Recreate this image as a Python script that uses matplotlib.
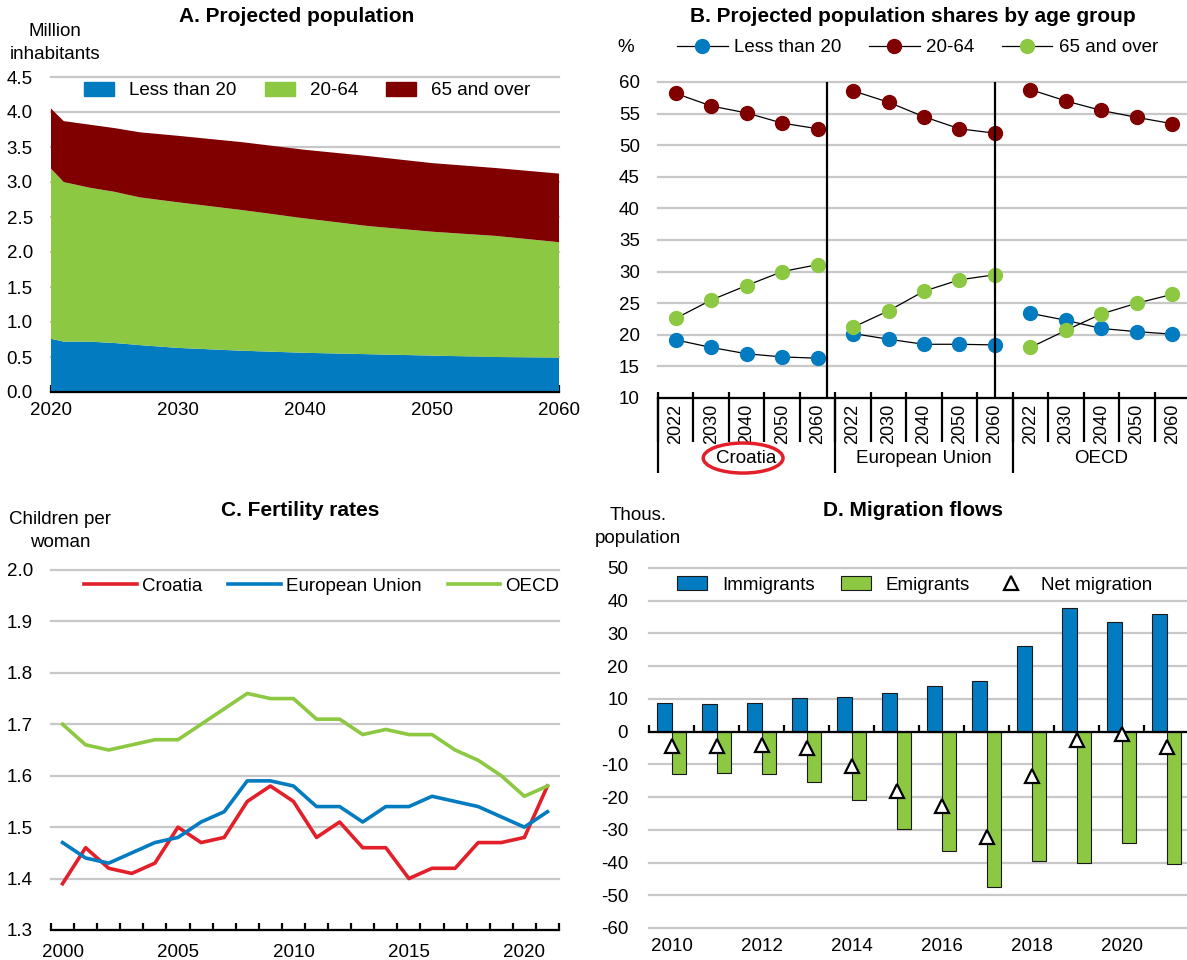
import numpy as np
import matplotlib
matplotlib.use('Agg')
import matplotlib.pyplot as plt
from matplotlib.patches import Ellipse, Patch
from matplotlib.lines import Line2D
from matplotlib.legend_handler import HandlerLine2D

# ---- data -------------------------------------------------------------
# A. projected population, million
pop_years = [2020, 2021, 2023, 2025, 2027, 2030, 2035, 2040, 2045, 2050, 2055, 2060]
pop_under20 = [0.76, 0.72, 0.72, 0.70, 0.67, 0.63, 0.59, 0.56, 0.54, 0.52, 0.50, 0.49]
pop_20_64 = [2.43, 2.28, 2.20, 2.16, 2.11, 2.08, 2.01, 1.92, 1.83, 1.77, 1.73, 1.65]
pop_65over = [0.86, 0.87, 0.90, 0.91, 0.93, 0.95, 0.97, 0.98, 1.00, 0.98, 0.97, 0.98]

# B. shares by age group, %
share_years = ['2022', '2030', '2040', '2050', '2060']
share_groups = ['Croatia', 'European Union', 'OECD']
share_under20 = [[19.2, 18.0, 17.0, 16.5, 16.3],
                 [20.2, 19.3, 18.5, 18.5, 18.4],
                 [23.4, 22.3, 21.0, 20.5, 20.1]]
share_20_64 = [[58.2, 56.2, 55.1, 53.5, 52.6],
               [58.6, 56.8, 54.5, 52.6, 51.9],
               [58.8, 57.0, 55.5, 54.4, 53.4]]
share_65over = [[22.6, 25.5, 27.8, 30.0, 31.1],
                [21.2, 23.8, 26.9, 28.7, 29.5],
                [18.0, 20.7, 23.3, 25.0, 26.4]]

# C. fertility rates, children per woman
fert_years = np.arange(2000, 2022)
fert_croatia = [1.39, 1.46, 1.42, 1.41, 1.43, 1.50, 1.47, 1.48, 1.55, 1.58, 1.55,
                1.48, 1.51, 1.46, 1.46, 1.40, 1.42, 1.42, 1.47, 1.47, 1.48, 1.58]
fert_eu = [1.47, 1.44, 1.43, 1.45, 1.47, 1.48, 1.51, 1.53, 1.59, 1.59, 1.58,
           1.54, 1.54, 1.51, 1.54, 1.54, 1.56, 1.55, 1.54, 1.52, 1.50, 1.53]
fert_oecd = [1.70, 1.66, 1.65, 1.66, 1.67, 1.67, 1.70, 1.73, 1.76, 1.75, 1.75,
             1.71, 1.71, 1.68, 1.69, 1.68, 1.68, 1.65, 1.63, 1.60, 1.56, 1.58]

# D. migration flows, thousands
mig_years = np.arange(2010, 2022)
immigrants = [8.9, 8.5, 8.9, 10.4, 10.7, 11.8, 13.9, 15.5, 26.1, 37.8, 33.4, 36.0]
emigrants = [-13.0, -12.7, -12.9, -15.3, -20.8, -29.7, -36.5, -47.4, -39.5, -40.2, -34.1, -40.5]
net_migration = [-4.4, -4.4, -4.0, -5.1, -10.4, -18.0, -22.6, -32.1, -13.6, -2.6, -0.8, -4.6]

# ---- style ------------------------------------------------------------
BLUE = '#037BC1'
GREEN = '#8CC841'
DARKRED = '#800000'
RED = '#E3202A'
GRID = '#C8C8C8'

plt.rcParams['font.family'] = ['Liberation Sans Narrow', 'Liberation Sans', 'DejaVu Sans']
plt.rcParams['font.size'] = 13.5
plt.rcParams['axes.unicode_minus'] = False

W, H = 1187., 960.


def box(left, top, right, bottom):
    # pixel box -> figure fraction
    return [left / W, 1 - bottom / H, (right - left) / W, (bottom - top) / H]


def base_style(ax, ypad=13):
    for s in ['left', 'right', 'top']:
        ax.spines[s].set_visible(False)
    ax.spines['bottom'].set_linewidth(1.6)
    ax.spines['bottom'].set_color('black')
    ax.yaxis.grid(True, color=GRID, lw=1.6)
    ax.set_axisbelow(True)
    ax.tick_params(axis='y', length=0, pad=ypad)
    for ln in ax.get_ygridlines():
        ln.set_clip_on(False)


class EndMarker(HandlerLine2D):
    # put the legend marker near the text instead of mid-handle
    def get_xdata(self, legend, xdescent, ydescent, width, height, fontsize):
        xd, xm = super().get_xdata(legend, xdescent, ydescent, width, height, fontsize)
        return xd, np.array([width - xdescent - 0.3 * fontsize])


fig = plt.figure(figsize=(W / 100, H / 100), dpi=100)

# ---- A. projected population -------------------------------------------
ax = fig.add_axes(box(51, 77, 559, 392))
base_style(ax)
ax.stackplot(pop_years, pop_under20, pop_20_64, pop_65over,
             colors=[BLUE, GREEN, DARKRED], lw=0)
ax.set_xlim(2020, 2060)
ax.set_ylim(0, 4.5)
ax.set_yticks(np.arange(0, 4.51, 0.5))
ax.set_yticklabels(['%.1f' % v for v in np.arange(0, 4.51, 0.5)])
ax.set_xticks([2020, 2030, 2040, 2050, 2060])
ax.tick_params(axis='x', direction='in', length=5, width=1.6, pad=7)
handles = [Patch(color=BLUE, label='Less than 20'),
           Patch(color=GREEN, label='20-64'),
           Patch(color=DARKRED, label='65 and over')]
ax.legend(handles=handles, ncol=3, frameon=False, loc='upper left',
          bbox_to_anchor=(0.065, 0.985), borderaxespad=0, borderpad=0,
          handlelength=1.6, handleheight=0.8, handletextpad=0.8, columnspacing=1.5)
fig.text(297 / W, 1 - 17 / H, 'A. Projected population', ha='center', va='center',
         fontweight='bold', fontsize=15)
fig.text(55 / W, 1 - 43 / H, 'Million\ninhabitants', ha='center', va='center',
         linespacing=1.45)

# ---- B. shares by age group --------------------------------------------
ax = fig.add_axes(box(658, 82, 1190, 398))
base_style(ax)
for g in range(3):
    xs = np.arange(5) + 5 * g
    for vals, col in [(share_under20, BLUE), (share_20_64, DARKRED), (share_65over, GREEN)]:
        ax.plot(xs, vals[g], color='black', lw=0.9, marker='o', ms=10,
                mfc=col, mec=col, zorder=3)
ax.set_xlim(-0.5, 14.5)
ax.set_ylim(10, 60)
ax.set_yticks(range(10, 61, 5))
ax.set_xticks(range(15))
ax.set_xticklabels(share_years * 3, rotation=90, fontsize=13)
ax.tick_params(axis='x', length=0, pad=4)
# group dividers inside the plot
ax.vlines([4.26, 9.0], 10, 60, color='black', lw=1.6, zorder=4)
# category boundaries below the axis
xt = ax.get_xaxis_transform()
ax.vlines(np.arange(-0.5, 15, 1), -0.139, 0.019, transform=xt, color='black',
          lw=1.6, clip_on=False)
ax.vlines([-0.5, 4.5, 9.5, 14.5], -0.237, 0, transform=xt, color='black',
          lw=1.6, clip_on=False)
for g, name in enumerate(share_groups):
    ax.text(2 + 5 * g, -0.193, name, transform=xt, ha='center', va='center')
ax.add_patch(Ellipse((1.9, -0.19), 2.25, 0.095, transform=xt, fill=False,
                     ec=RED, lw=2.5, clip_on=False))
handles = [Line2D([], [], color='black', lw=0.9, marker='o', ms=10, mfc=c, mec=c, label=l)
           for c, l in [(BLUE, 'Less than 20'), (DARKRED, '20-64'), (GREEN, '65 and over')]]
ax.legend(handles=handles, ncol=3, frameon=False, loc='upper left',
          bbox_to_anchor=(0.036, 1.135), borderaxespad=0, borderpad=0,
          handlelength=2.7, handletextpad=0.35, columnspacing=1.45)
fig.text(913 / W, 1 - 17 / H, 'B. Projected population shares by age group',
         ha='center', va='center', fontweight='bold', fontsize=15)
fig.text(626 / W, 1 - 48 / H, '%', ha='center', va='center')

# ---- C. fertility rates ---------------------------------------------------
ax = fig.add_axes(box(51, 570, 559, 930))
base_style(ax)
ax.plot(fert_years, fert_croatia, color=RED, lw=2.6, label='Croatia')
ax.plot(fert_years, fert_eu, color=BLUE, lw=2.6, label='European Union')
ax.plot(fert_years, fert_oecd, color=GREEN, lw=2.6, label='OECD')
ax.set_xlim(1999.5, 2021.5)
ax.set_ylim(1.3, 2.0)
ax.set_yticks(np.arange(1.3, 2.01, 0.1))
ax.set_yticklabels(['%.1f' % v for v in np.arange(1.3, 2.01, 0.1)])
ax.set_xticks([2000, 2005, 2010, 2015, 2020])
ax.set_xticks(np.arange(1999.5, 2022, 1), minor=True)
ax.tick_params(axis='x', which='major', length=0, pad=10)
ax.tick_params(axis='x', which='minor', direction='in', length=5, width=1.6)
ax.legend(ncol=3, frameon=False, loc='upper left', bbox_to_anchor=(0.065, 0.978),
          borderaxespad=0, borderpad=0, handlelength=2.8, handletextpad=0.27,
          columnspacing=1.4)
fig.text(300 / W, 1 - 511 / H, 'C. Fertility rates', ha='center', va='center',
         fontweight='bold', fontsize=15)
fig.text(60 / W, 1 - 531 / H, 'Children per\nwoman', ha='center', va='center',
         linespacing=1.45)

# ---- D. migration flows -----------------------------------------------------
ax = fig.add_axes(box(649, 568, 1189, 928))
base_style(ax, ypad=15)
w = 0.333
b_imm = ax.bar(mig_years - w / 2, immigrants, width=w, color=BLUE, edgecolor='#1a1a1a',
               lw=0.8, label='Immigrants', zorder=2)
b_emi = ax.bar(mig_years + w / 2, emigrants, width=w, color=GREEN, edgecolor='#1a1a1a',
               lw=0.8, label='Emigrants', zorder=2)
net, = ax.plot(mig_years, net_migration, ls='none', marker='^', ms=10, mfc='white',
               mec='black', mew=1.6, label='Net migration', zorder=4)
ax.set_xlim(2009.5, 2021.5)
ax.set_ylim(-60, 50)
ax.set_yticks(range(-60, 51, 10))
ax.spines['bottom'].set_position(('data', 0))
ax.spines['bottom'].set_zorder(3)
ax.set_xticks([])
ax.set_xticks(np.arange(2009.5, 2022, 1), minor=True)
ax.tick_params(axis='x', which='minor', direction='in', length=5, width=1.6,
               labelbottom=False)
sec = ax.secondary_xaxis('bottom')
sec.set_xticks(range(2010, 2022, 2))
sec.tick_params(length=0, pad=7)
sec.spines['bottom'].set_visible(False)
ax.legend([b_imm, b_emi, net], ['Immigrants', 'Emigrants', 'Net migration'],
          ncol=3, frameon=False, loc='upper left',
          bbox_to_anchor=(0.052, 0.978), borderaxespad=0, borderpad=0,
          handlelength=1.6, handleheight=0.8, handletextpad=0.8, columnspacing=1.4,
          handler_map={net: EndMarker(numpoints=1)})
fig.text(913 / W, 1 - 511 / H, 'D. Migration flows', ha='center', va='center',
         fontweight='bold', fontsize=15)
fig.text(638 / W, 1 - 527 / H, 'Thous.\npopulation', ha='center', va='center',
         linespacing=1.45)

fig.savefig('out.png', dpi=100)
